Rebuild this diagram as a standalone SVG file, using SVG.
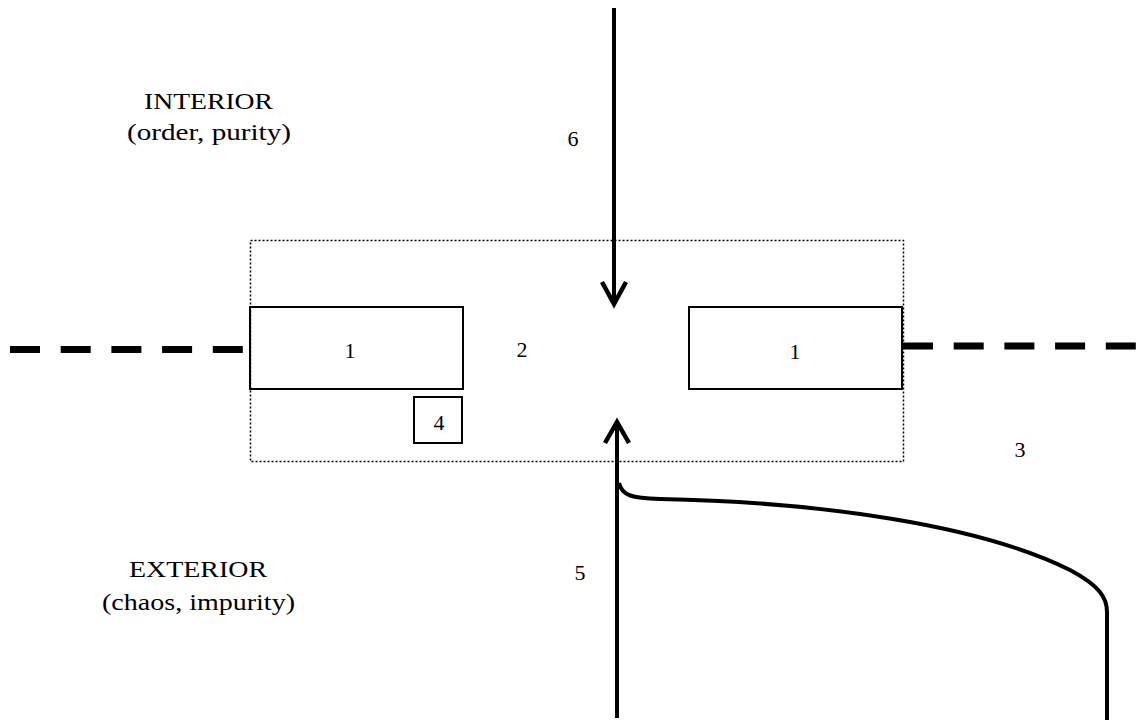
<svg xmlns="http://www.w3.org/2000/svg" width="1136" height="720" viewBox="0 0 1136 720">
<style>
text{font-family:"Liberation Serif","Times New Roman",serif;font-size:22px;fill:#000;text-anchor:middle}
.big{font-size:24px;text-anchor:start}
.box{fill:none;stroke:#000;stroke-width:2}
.dot{fill:none;stroke:#000;stroke-width:1.5;stroke-dasharray:2 2}
.dash{stroke:#000;stroke-width:7;stroke-dasharray:30 20.7;fill:none}
.arr{stroke:#000;stroke-width:4;fill:none}
.head{stroke:#000;stroke-width:4.5;fill:none;stroke-linejoin:miter}
</style>
<rect width="1136" height="720" fill="#fff"/>
<g id="zone">
<rect class="dot" x="250.5" y="240.5" width="653" height="221"/>
<text x="522" y="357">2</text>
</g>
<g id="interior"><text class="big" x="144" y="109" textLength="129" lengthAdjust="spacingAndGlyphs">INTERIOR</text><text class="big" x="127" y="140" textLength="164" lengthAdjust="spacingAndGlyphs">(order, purity)</text></g>
<g id="exterior"><text class="big" x="129" y="577" textLength="138" lengthAdjust="spacingAndGlyphs">EXTERIOR</text><text class="big" x="102" y="610" textLength="193" lengthAdjust="spacingAndGlyphs">(chaos, impurity)</text></g>
<g id="box-left"><rect class="box" x="250" y="307" width="213" height="82"/><text x="350" y="358">1</text></g>
<g id="box-right"><rect class="box" x="689" y="307" width="213" height="82"/><text x="795" y="359">1</text></g>
<g id="box-4"><rect class="box" x="414" y="397" width="48" height="46"/><text x="439" y="430">4</text></g>
<g id="label-3"><text x="1020" y="457">3</text></g>
<g id="label-5"><text x="580" y="580">5</text></g>
<g id="label-6"><text x="573" y="146">6</text></g>
<g id="connectors">
<line class="dash" x1="10" y1="349.5" x2="244" y2="349.5"/>
<line class="dash" x1="903" y1="346" x2="1136" y2="346"/>
<line class="arr" x1="614" y1="8" x2="614" y2="303"/>
<polyline class="head" points="602,282 614,304 626,282"/>
<line class="arr" x1="617" y1="718" x2="617" y2="423"/>
<polyline class="head" points="605,443 617,422 629,443"/>
<path class="arr" d="M619,483 C622,496 632,498 660,499 C820,502 980,525 1070,570 C1100,586 1107,598 1107,612 L1107,720"/>
</g>
</svg>
